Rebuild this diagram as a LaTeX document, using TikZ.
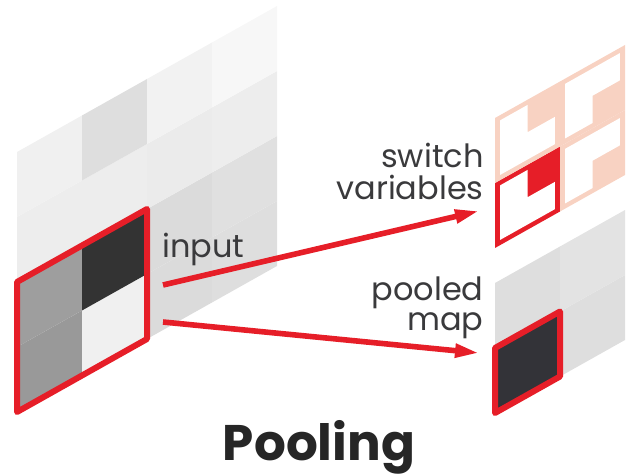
\documentclass[tikz,border=0pt]{standalone}
\usepackage{fontspec}
\setmainfont{Poppins}
\usepackage{tikz}
\usetikzlibrary{arrows.meta}
\definecolor{ink}{HTML}{3A3A3C}
\definecolor{hot}{HTML}{E61E28}
\definecolor{peach}{HTML}{F8D2C2}
\definecolor{coal}{HTML}{333338}

\begin{document}
\begin{tikzpicture}[x=0.5pt,y=-0.5pt,
 lbl/.style={text=ink,font=\fontsize{16}{16.5}\selectfont,inner sep=0pt},
 hl/.style={draw=hot,line width=3pt,line join=round},
 link/.style={draw=hot,line width=2.8pt,-{Triangle[length=12pt,width=6.5pt]}}]
\useasboundingbox (0,0) rectangle (628,476);
\def\m{0.08}
% input map, 4x4 cells
\begin{scope}[shift={(17,412)},x={(32.5pt,18.25pt)},y={(0pt,32.5pt)}]
\foreach \i/\j/\c in {0/0/40,0/1/38,1/0/6,1/1/80,2/0/14,3/0/13,2/1/14,3/1/12,
0/2/7,1/2/7,2/2/8,3/2/7,0/3/6,1/3/13,2/3/5,3/3/3}
 {\fill[black!\c] (\i,\j) -- ++(1,0) -- ++(0,1) -- ++(-1,0) -- cycle;}
\draw[hl] (0,0) -- (2,0) -- (2,2) -- (0,2) -- cycle;
\end{scope}
% switch variables, 2x2 cells
\begin{scope}[shift={(495,248)},x={(32.5pt,18.25pt)},y={(0pt,32.5pt)}]
\foreach \i/\j/\c in {0/0/hot,0/1/peach}{
 \fill[\c] (\i,\j) -- ++(1,0) -- ++(0,1) -- ++(-1,0) -- cycle;
 \fill[white] (\i+\m,\j+\m) -- (\i+1-\m,\j+\m) -- (\i+1-\m,\j+.5) -- (\i+.5,\j+.5)
 -- (\i+.5,\j+1-\m) -- (\i+\m,\j+1-\m) -- cycle;}
\foreach \i/\j/\c in {1/0/peach,1/1/peach}{
 \fill[\c] (\i,\j) -- ++(1,0) -- ++(0,1) -- ++(-1,0) -- cycle;
 \fill[white] (\i+\m,\j+\m) -- (\i+.5,\j+\m) -- (\i+.5,\j+.5) -- (\i+1-\m,\j+.5)
 -- (\i+1-\m,\j+1-\m) -- (\i+\m,\j+1-\m) -- cycle;}
\end{scope}
% pooled map, 2x2 cells
\begin{scope}[shift={(495,413)},x={(32.5pt,18.25pt)},y={(0pt,32.5pt)}]
\foreach \i/\j/\c in {1/0/13,0/1/13,1/1/11}
 {\fill[black!\c] (\i,\j) -- ++(1,0) -- ++(0,1) -- ++(-1,0) -- cycle;}
\fill[coal] (0,0) -- (1,0) -- (1,1) -- (0,1) -- cycle;
\draw[hl] (0,0) -- (1,0) -- (1,1) -- (0,1) -- cycle;
\end{scope}
\node[lbl,anchor=base west] (input) at (162,258) {input};
\node[lbl,anchor=base east,align=right] (switch) at (484,200) {switch\\variables};
\node[lbl,anchor=base east,align=right,font=\fontsize{16}{15}\selectfont]
 (pooled) at (484,331) {pooled\\map};
\node[font=\bfseries\fontsize{25}{30}\selectfont,text=black!85,anchor=base,
 inner sep=0pt] (title) at (319,460) {Pooling};
\coordinate (src1) at (163,285);
\coordinate (src2) at (163,322);
\coordinate (dst1) at (479,211);
\coordinate (dst2) at (479,353);
\draw[link] (src1) -- (dst1);
\draw[link] (src2) -- (dst2);
\end{tikzpicture}
\end{document}
